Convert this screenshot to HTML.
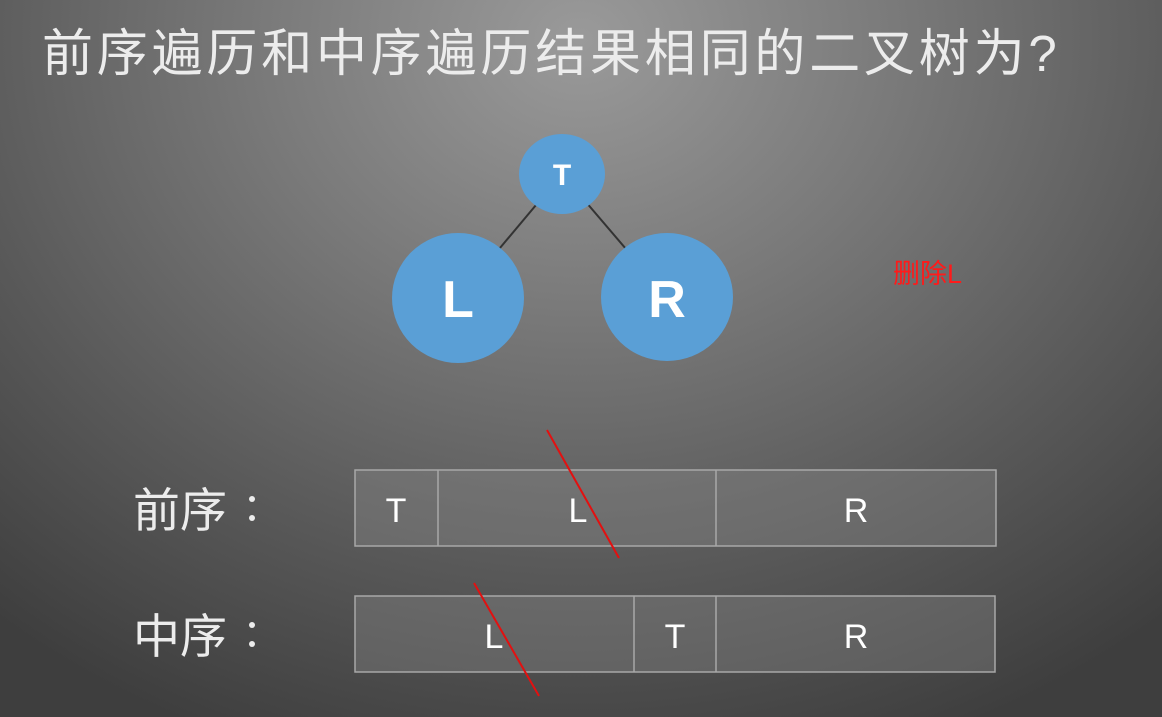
<!DOCTYPE html>
<html><head><meta charset="utf-8"><style>
html,body{margin:0;padding:0}
body{width:1162px;height:717px;overflow:hidden;position:relative;
background:radial-gradient(ellipse 900px 760px at 580px 40px,#9a9a9a 0%,#7a7a7a 35%,#595959 70%,#3e3e3e 100%);
font-family:"Liberation Sans","Noto Sans CJK SC",sans-serif}
.t{position:absolute;white-space:nowrap;color:#ececec}
svg{position:absolute;left:0;top:0}
</style></head><body>
<div class="t" style="left:42px;top:12px;font-size:51px;letter-spacing:3.8px">前序遍历和中序遍历结果相同的二叉树为?</div>
<div class="t" style="left:133px;top:472px;font-size:47px">前序</div>
<div class="t" style="left:133px;top:598px;font-size:47px">中序</div>
<svg width="1162" height="717">
<g fill="#ececec"><circle cx="252" cy="499" r="3"/><circle cx="252" cy="518" r="3"/><circle cx="252" cy="625" r="3"/><circle cx="252" cy="644" r="3"/></g>
<line x1="562" y1="174" x2="458" y2="298" stroke="#333" stroke-width="2"/>
<line x1="562" y1="174" x2="667" y2="297" stroke="#333" stroke-width="2"/>
<ellipse cx="562" cy="174" rx="43" ry="40" fill="#5a9fd6"/>
<ellipse cx="458" cy="298" rx="66" ry="65" fill="#5a9fd6"/>
<ellipse cx="667" cy="297" rx="66" ry="64" fill="#5a9fd6"/>
<g font-family="Liberation Sans" font-weight="bold" fill="#fff" text-anchor="middle">
<text x="562" y="185" font-size="30">T</text>
<text x="458" y="317" font-size="52">L</text>
<text x="667" y="317" font-size="52">R</text>
</g>
<g fill="rgba(140,140,140,0.35)" stroke="#a8a8a8" stroke-width="1.5">
<rect x="355" y="470" width="641" height="76"/>
<rect x="355" y="596" width="640" height="76"/>
</g>
<g stroke="#a8a8a8" stroke-width="1.5">
<line x1="438" y1="470" x2="438" y2="546"/><line x1="716" y1="470" x2="716" y2="546"/>
<line x1="634" y1="596" x2="634" y2="672"/><line x1="716" y1="596" x2="716" y2="672"/>
</g>
<g font-family="Liberation Sans" fill="#fff" text-anchor="middle" font-size="34">
<text x="396" y="522">T</text><text x="578" y="522">L</text><text x="856" y="522">R</text>
<text x="494" y="648">L</text><text x="675" y="648">T</text><text x="856" y="648">R</text>
</g>
<line x1="547" y1="430" x2="619" y2="558" stroke="#e31010" stroke-width="2"/>
<line x1="474" y1="583" x2="539" y2="696" stroke="#e31010" stroke-width="2"/>
</svg>
<div class="t" style="left:893px;top:252px;font-size:27px;color:#ff1a1a">删除L</div>
</body></html>
